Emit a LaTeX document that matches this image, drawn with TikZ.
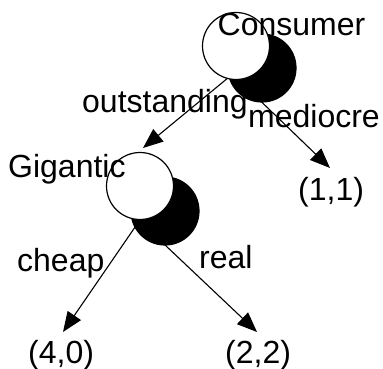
\documentclass[tikz,border=0pt]{standalone}
\usepackage{fontspec}
\setmainfont{Liberation Sans}
\usetikzlibrary{arrows.meta}
\begin{document}
\begin{tikzpicture}[x=1pt,y=-1pt,
  lbl/.style={anchor=base west,inner sep=0pt,font=\fontsize{32}{38}\selectfont},
  conn/.style={line width=1.1pt,-{Triangle[length=20pt,width=16pt]}},
  whitec/.style={circle,draw,line width=1.2pt,fill=white,minimum size=67pt,inner sep=0pt},
  blackc/.style={circle,draw,line width=1.2pt,fill=black,minimum size=68pt,inner sep=0pt}]
\useasboundingbox (0,0) rectangle (383,369);
% connector end points
\coordinate (c1a) at (240,68);
\coordinate (c1b) at (245,86);
\coordinate (g1a) at (143,215.5);
\coordinate (g1b) at (155,235.5);
\coordinate (tipG) at (143,148);
\coordinate (tip11) at (330,168);
\coordinate (tip40) at (63,332);
\coordinate (tip22) at (257,332);
% connectors
\draw[conn] (c1a) -- (tipG);
\draw[conn] (c1b) -- (tip11);
\draw[conn] (g1a) -- (tip40);
\draw[conn] (g1b) -- (tip22);
% decision nodes
\node[blackc] (cb) at (262,68) {};
\node[whitec] (cw) at (236,46) {};
\node[blackc] (gb) at (165,211) {};
\node[whitec] (gw) at (140,186) {};
% labels
\node[lbl] (lcons) at (217.5,36) {Consumer};
\node[lbl] (lout) at (82,112) {outstanding};
\node[lbl] (lmed) at (248,127) {mediocre};
\node[lbl] (l11) at (298,200) {(1,1)};
\node[lbl] (lgig) at (8,177) {Gigantic};
\node[lbl] (lcheap) at (17,271) {cheap};
\node[lbl] (lreal) at (199,268) {real};
\node[lbl] (l40) at (28,363) {(4,0)};
\node[lbl] (l22) at (225,363) {(2,2)};
\end{tikzpicture}
\end{document}
